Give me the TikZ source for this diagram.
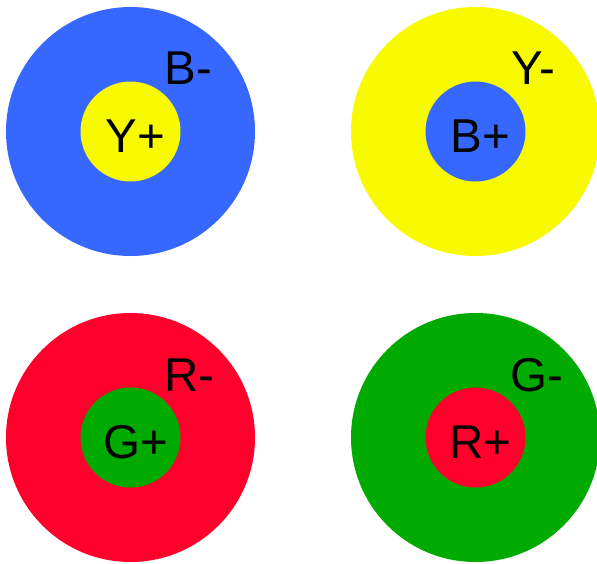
\documentclass[tikz,border=0pt]{standalone}
\usepackage{fontspec}
\setmainfont{Liberation Sans}
\usetikzlibrary{positioning}
\definecolor{RBazul}    {RGB}{ 54,104,255}
\definecolor{RBamarillo}{RGB}{248,250,  0}
\definecolor{RBrojo}    {RGB}{255,  0, 44}
\definecolor{RBverde}   {RGB}{  0,170,  0}
\begin{document}
\begin{tikzpicture}[x=1pt,y=-1pt,
  ring/.style={circle, inner sep=0pt, minimum size=249pt},
  core/.style={circle, inner sep=0pt, minimum size=100pt},
  tag/.style={inner sep=0pt, font=\fontsize{47.5}{52}\selectfont}]
\useasboundingbox (0,0) rectangle (597,563);
\node[ring, fill=RBazul] (bneg) at (130.5,131.5) {};
\node[core, fill=RBamarillo] (ypos) at (bneg.center) {};
\node[tag, anchor=base west] (bnegtag) at ([xshift=34pt,yshift=47pt]bneg.center) {B-};
\node[tag, anchor=base] (ypostag) at ([xshift=5pt,yshift=-20.5pt]ypos.center) {Y+};
\node[ring, fill=RBamarillo] (yneg) at (475.5,131.5) {};
\node[core, fill=RBazul] (bpos) at (yneg.center) {};
\node[tag, anchor=base west] (ynegtag) at ([xshift=36pt,yshift=47pt]yneg.center) {Y-};
\node[tag, anchor=base] (bpostag) at ([xshift=5pt,yshift=-20.5pt]bpos.center) {B+};
\node[ring, fill=RBrojo] (rneg) at (130.5,437.5) {};
\node[core, fill=RBverde] (gpos) at (rneg.center) {};
\node[tag, anchor=base west] (rnegtag) at ([xshift=34pt,yshift=46pt]rneg.center) {R-};
\node[tag, anchor=base] (gpostag) at ([xshift=5pt,yshift=-20.5pt]gpos.center) {G+};
\node[ring, fill=RBverde] (gneg) at (475.5,437.5) {};
\node[core, fill=RBrojo] (rpos) at (gneg.center) {};
\node[tag, anchor=base west] (gnegtag) at ([xshift=35pt,yshift=46pt]gneg.center) {G-};
\node[tag, anchor=base] (rpostag) at ([xshift=5pt,yshift=-20.5pt]rpos.center) {R+};
\end{tikzpicture}
\end{document}
